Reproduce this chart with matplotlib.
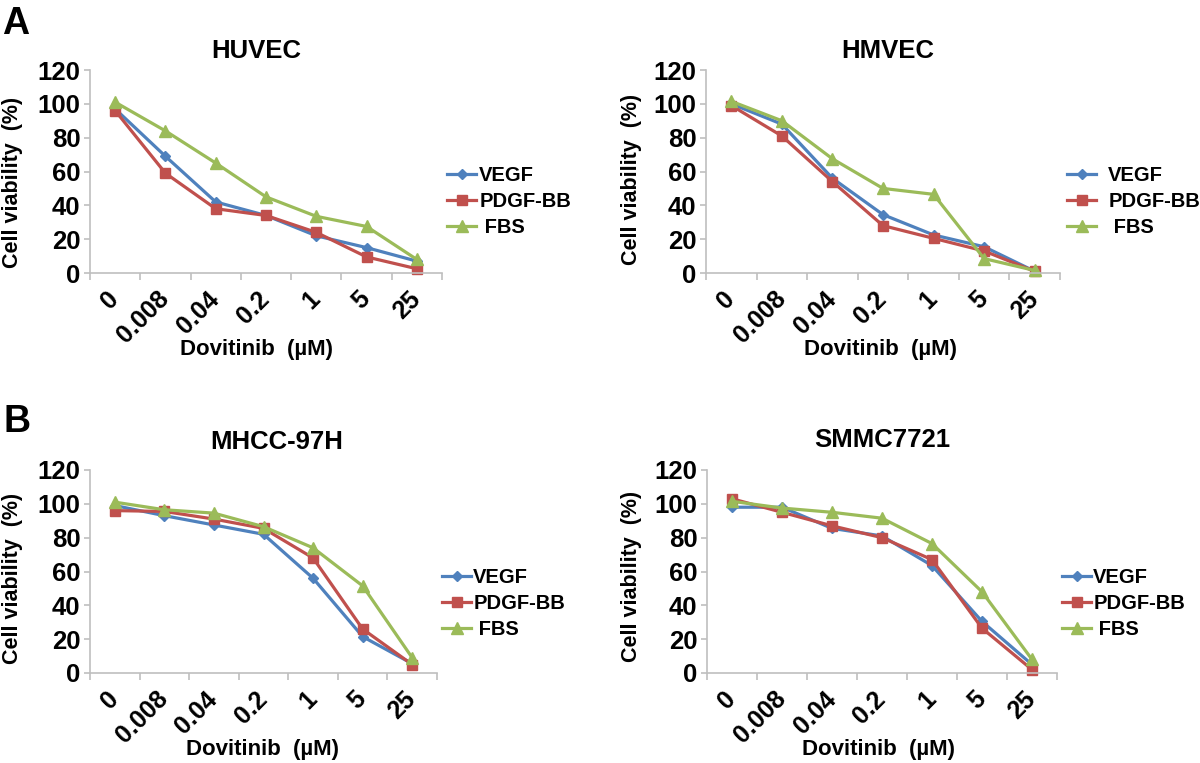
import matplotlib
matplotlib.use('Agg')
import matplotlib.pyplot as plt

plt.rcParams['font.family'] = ['Liberation Sans', 'DejaVu Sans']
plt.rcParams['font.weight'] = 'bold'

# doses on the x axis (category axis)
doses = ['0', '0.008', '0.04', '0.2', '1', '5', '25']

# cell viability (%)
huvec_vegf = [97, 69, 42, 34, 22, 15, 7]
huvec_pdgf = [96, 59, 38, 34, 24, 9.5, 2.5]
huvec_fbs = [101, 84, 65, 45, 33.5, 27.5, 8]

hmvec_vegf = [100, 88, 56, 34.5, 22.5, 15.5, 1]
hmvec_pdgf = [99, 81, 54, 28, 20.5, 13, 1]
hmvec_fbs = [101.5, 90, 67.5, 50, 46.5, 8.5, 1.5]

mhcc_vegf = [99, 93, 87.5, 82, 56, 21.5, 5.5]
mhcc_pdgf = [96, 95.5, 91, 85.5, 68, 26, 5]
mhcc_fbs = [101, 96.5, 94.5, 86.5, 74, 51.5, 9]

smmc_vegf = [98, 98, 85.5, 81, 63.5, 30.5, 5]
smmc_pdgf = [103, 95, 87, 80, 67, 26.5, 2]
smmc_fbs = [101.5, 97.5, 95, 91.5, 76.5, 48, 8]

titles = ['HUVEC', 'HMVEC', 'MHCC-97H', 'SMMC7721']
series_names = ['VEGF', 'PDGF-BB', ' FBS']

colors = ['#4F81BD', '#C0504D', '#9BBB59']
markers = ['D', 's', '^']
msizes = [5, 7.5, 8]
W, H = 1200.0, 763.0

fig = plt.figure(figsize=(12, 7.63), dpi=100)


def fx(px):
    return px / W


def fy(py):
    return 1 - py / H


def panel(left, right, top, bottom, data, title, title_xy, xlab_xy, ylab_x, ylab_y, leg_xy, leg_gap):
    ax = fig.add_axes([fx(left), fy(bottom), fx(right - left), (bottom - top) / H])
    xs = range(len(doses))
    for vals, c, m, ms, name in zip(data, colors, markers, msizes, series_names):
        ax.plot(xs, vals, color=c, marker=m, markersize=ms, lw=2.3, label=name,
                markeredgecolor=c, clip_on=False)
    ax.set_xlim(-0.5, len(doses) - 0.5)
    ax.set_ylim(0, 120)
    ax.set_yticks(range(0, 121, 20))
    ax.set_xticks(list(xs))
    ax.set_xticks([i - 0.5 for i in range(len(doses) + 1)], minor=True)
    ax.set_xticklabels(doses, rotation=45, ha='right', va='center', rotation_mode='anchor')
    ax.tick_params(axis='x', which='major', length=0, pad=16, labelsize=18)
    ax.tick_params(axis='x', which='minor', length=5, color='#BFBFBF', width=1.2)
    ax.tick_params(axis='y', length=4, color='#BFBFBF', width=1.2, labelsize=18.5, pad=3)
    for s in ['top', 'right']:
        ax.spines[s].set_visible(False)
    for s in ['left', 'bottom']:
        ax.spines[s].set_color('#BFBFBF')
        ax.spines[s].set_linewidth(1.2)
    for lab in ax.get_xticklabels() + ax.get_yticklabels():
        lab.set_fontweight('bold')
    ax.set_ylabel('Cell viability  (%)', fontsize=15.5, fontweight='bold')
    ax.yaxis.set_label_coords((ylab_x - left) / (right - left), (bottom - ylab_y) / (bottom - top))
    ax.yaxis.label.set_va('center')
    ax.set_xlabel('Dovitinib  (µM)', fontsize=16, fontweight='bold')
    ax.xaxis.set_label_coords((xlab_xy[0] - left) / (right - left), (bottom - xlab_xy[1]) / (bottom - top))
    ax.xaxis.label.set_va('center')
    fig.text(fx(title_xy[0]), fy(title_xy[1]), title, fontsize=18.5, fontweight='bold',
             ha='center', va='center')
    ax.legend(loc='upper left', bbox_to_anchor=(fx(leg_xy[0]), fy(leg_xy[1])),
              bbox_transform=fig.transFigure, frameon=False,
              handlelength=1.45, handletextpad=leg_gap, labelspacing=0.35,
              borderpad=0, borderaxespad=0, prop={'weight': 'bold', 'size': 14.5})
    return ax


panel(90, 442, 70, 273, [huvec_vegf, huvec_pdgf, huvec_fbs], titles[0],
      (256, 51), (257, 350), 13, 182, (447, 166), 0.15)
panel(706, 1060, 70, 273, [hmvec_vegf, hmvec_pdgf, hmvec_fbs], titles[1],
      (888, 51), (881, 350), 632, 179, (1067, 166), 0.6)
panel(90, 437, 470, 673, [mhcc_vegf, mhcc_pdgf, mhcc_fbs], titles[2],
      (277, 442), (262, 750), 13, 578, (442, 568), 0.1)
panel(707, 1057, 470, 673, [smmc_vegf, smmc_pdgf, smmc_fbs], titles[3],
      (882, 440), (878, 749), 632, 576, (1062, 568), 0.1)

fig.text(fx(2), fy(6), 'A', fontsize=27, fontweight='bold', ha='left', va='top')
fig.text(fx(3), fy(404), 'B', fontsize=27, fontweight='bold', ha='left', va='top')

fig.savefig('out.png', dpi=100, facecolor='white')
